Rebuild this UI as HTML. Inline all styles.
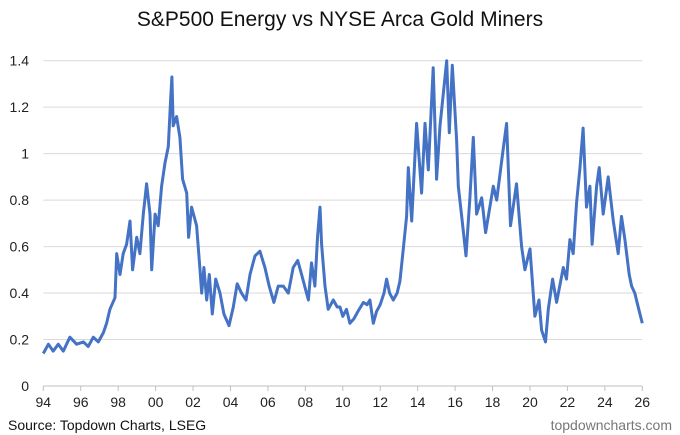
<!DOCTYPE html>
<html><head><meta charset="utf-8"><style>
body{margin:0;background:#fff;width:680px;height:435px;overflow:hidden;font-family:"Liberation Sans",Arial,sans-serif}
svg{display:block}
</style></head><body>
<svg width="680" height="435" id="chart">
<text x="340" y="26" text-anchor="middle" font-size="21" fill="#111">S&amp;P500 Energy vs NYSE Arca Gold Miners</text>
<g id="grid"></g>
<g id="yticks"></g>
<g id="xticks"></g>
<path id="line" fill="none" stroke="#4472C4" stroke-width="3" stroke-linejoin="round"/>
<text x="8" y="430" font-size="14" fill="#111">Source: Topdown Charts, LSEG</text>
<text x="672" y="430" text-anchor="end" font-size="14" fill="#777">topdowncharts.com</text>
</svg>
<script>
const yTicks=[0,0.2,0.4,0.6,0.8,1,1.2,1.4];
const yTickLabels=["0","0.2","0.4","0.6","0.8","1","1.2","1.4"];
const xTicks=[1994,1996,1998,2000,2002,2004,2006,2008,2010,2012,2014,2016,2018,2020,2022,2024,2026];
const xTickLabels=["94","96","98","00","02","04","06","08","10","12","14","16","18","20","22","24","26"];
const dates=[1994.00,1994.27,1994.53,1994.80,1995.07,1995.42,1995.78,1996.14,1996.40,1996.67,1996.94,1997.21,1997.38,1997.56,1997.83,1997.92,1998.10,1998.27,1998.45,1998.63,1998.77,1998.99,1999.16,1999.34,1999.52,1999.70,1999.79,1999.97,2000.14,2000.32,2000.50,2000.68,2000.80,2000.87,2000.94,2001.12,2001.30,2001.44,2001.66,2001.76,2001.92,2002.19,2002.37,2002.46,2002.58,2002.73,2002.87,2003.03,2003.21,2003.44,2003.65,2003.92,2004.15,2004.36,2004.59,2004.83,2005.04,2005.31,2005.57,2005.84,2006.07,2006.32,2006.55,2006.82,2007.09,2007.35,2007.59,2007.80,2008.03,2008.16,2008.33,2008.51,2008.65,2008.78,2008.87,2009.05,2009.22,2009.49,2009.70,2009.85,2010.0,2010.2,2010.38,2010.6,2010.8,2011.10,2011.3,2011.45,2011.63,2011.8,2012.0,2012.2,2012.34,2012.5,2012.70,2012.9,2013.05,2013.23,2013.41,2013.50,2013.68,2013.94,2014.21,2014.39,2014.57,2014.83,2015.01,2015.19,2015.55,2015.69,2015.85,2016.08,2016.17,2016.35,2016.58,2016.79,2016.97,2017.15,2017.42,2017.63,2018.04,2018.22,2018.57,2018.75,2018.96,2019.28,2019.55,2019.73,2020.00,2020.26,2020.48,2020.62,2020.83,2020.98,2021.21,2021.42,2021.78,2021.95,2022.13,2022.31,2022.49,2022.67,2022.84,2023.02,2023.20,2023.32,2023.56,2023.70,2023.91,2024.18,2024.45,2024.71,2024.89,2025.07,2025.30,2025.43,2025.60,2025.78,2026.00];
const values=[.14,.18,.15,.18,.15,.21,.18,.19,.17,.21,.19,.23,.27,.33,.38,.57,.48,.57,.61,.71,.50,.64,.57,.74,.87,.74,.50,.74,.69,.86,.96,1.03,1.23,1.33,1.12,1.16,1.07,.89,.83,.64,.77,.69,.50,.40,.51,.37,.48,.31,.46,.40,.31,.26,.34,.44,.40,.37,.48,.56,.58,.51,.43,.36,.43,.43,.40,.51,.54,.48,.41,.37,.53,.43,.64,.77,.61,.43,.33,.37,.34,.34,.30,.33,.27,.29,.32,.36,.35,.37,.27,.32,.35,.40,.46,.40,.37,.40,.45,.59,.73,.94,.71,1.13,.83,1.13,.93,1.37,.89,1.12,1.40,1.09,1.38,1.06,.86,.73,.56,.81,1.07,.74,.81,.66,.86,.80,1.02,1.13,.69,.87,.60,.50,.59,.30,.37,.24,.19,.33,.46,.36,.51,.46,.63,.57,.79,.94,1.11,.77,.86,.61,.86,.94,.74,.90,.71,.57,.73,.63,.48,.43,.40,.34,.27];
const X0=43.3,X1=642.3,Y0=386,Y1=60.7;
const xs=d=>X0+(d-1994)/(2026-1994)*(X1-X0);
const ys=v=>Y0-v/1.4*(Y0-Y1);
const NS="http://www.w3.org/2000/svg";
const grid=document.getElementById('grid'),yt=document.getElementById('yticks'),xt=document.getElementById('xticks');
yTicks.forEach((v,i)=>{
 if(v>0){const l=document.createElementNS(NS,'line');
 
 
 l.setAttribute('x1',X0);l.setAttribute('x2',X1);l.setAttribute('y1',ys(v));l.setAttribute('y2',ys(v));
 l.setAttribute('stroke','#d9d9d9');l.setAttribute('stroke-width','1');grid.appendChild(l);}
 const t=document.createElementNS(NS,'text');
 
 
 t.setAttribute('x',29);t.setAttribute('y',ys(v)+5);t.setAttribute('text-anchor','end');t.setAttribute('font-size','14');t.setAttribute('fill','#222');
 t.textContent=yTickLabels[i];yt.appendChild(t);
});
const ax=document.createElementNS(NS,'line');


ax.setAttribute('x1',X0);ax.setAttribute('x2',X1);ax.setAttribute('y1',Y0);ax.setAttribute('y2',Y0);ax.setAttribute('stroke','#bfbfbf');xt.appendChild(ax);
xTicks.forEach((d,i)=>{
 const l=document.createElementNS(NS,'line');
 
 
 l.setAttribute('x1',xs(d));l.setAttribute('x2',xs(d));l.setAttribute('y1',Y0);l.setAttribute('y2',Y0+5);l.setAttribute('stroke','#bfbfbf');xt.appendChild(l);
 const t=document.createElementNS(NS,'text');
 
 
 t.setAttribute('x',xs(d));t.setAttribute('y',407);t.setAttribute('text-anchor','middle');t.setAttribute('font-size','14');t.setAttribute('fill','#222');
 t.textContent=xTickLabels[i];xt.appendChild(t);
});
document.getElementById('line').setAttribute('d',dates.map((d,i)=>(i?'L':'M')+xs(d).toFixed(1)+' '+ys(values[i]).toFixed(1)).join(''));
</script>
</body></html>
